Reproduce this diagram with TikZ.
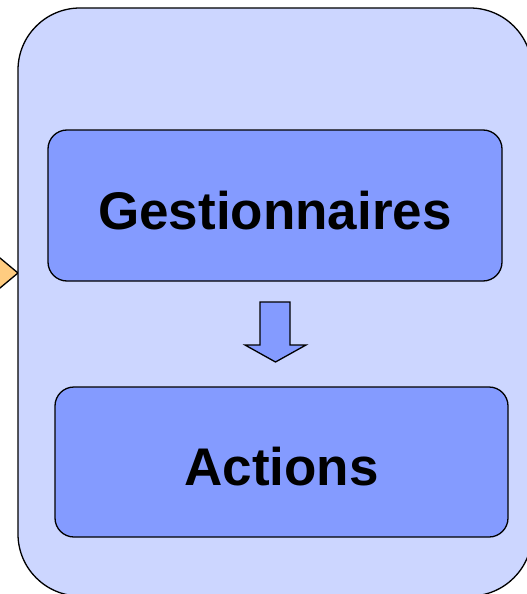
\documentclass[tikz,border=0pt]{standalone}
\usepackage{fontspec}
\setmainfont{Liberation Sans}
\definecolor{panelblue}{RGB}{204,214,255}
\definecolor{boxblue}{RGB}{132,155,255}
\definecolor{feedorange}{RGB}{255,204,128}

\begin{document}
\begin{tikzpicture}[x=1pt, y=-1pt, line width=1.3pt,
  block/.style={draw, rectangle, rounded corners=19pt, fill=boxblue, minimum width=454pt, minimum height=151pt, text height=47pt, text depth=0pt, font=\fontsize{53}{60}\selectfont\bfseries}]
  \useasboundingbox (0,0) rectangle (527,594);
  % incoming arrow, only its head shows
  \coordinate (feedtip) at (18,273);
  \draw[fill=feedorange] (feedtip) -- (-12,248) -- (-12,298) -- cycle;
  \node[draw, rectangle, rounded corners=62pt, fill=panelblue, minimum width=514pt, minimum height=588pt] (panel) at (275,302) {};
  \node[block] (gest) at (275,205.5) {Gestionnaires};
  \node[block, minimum width=453pt, minimum height=150pt] (actions) at (281.5,462) {Actions};
  % block arrow between the two boxes
  \draw[fill=boxblue] (260,302) -- (290,302) -- (290,345) -- (306,345) -- (275.5,362) -- (245,345) -- (260,345) -- cycle;
\end{tikzpicture}
\end{document}
